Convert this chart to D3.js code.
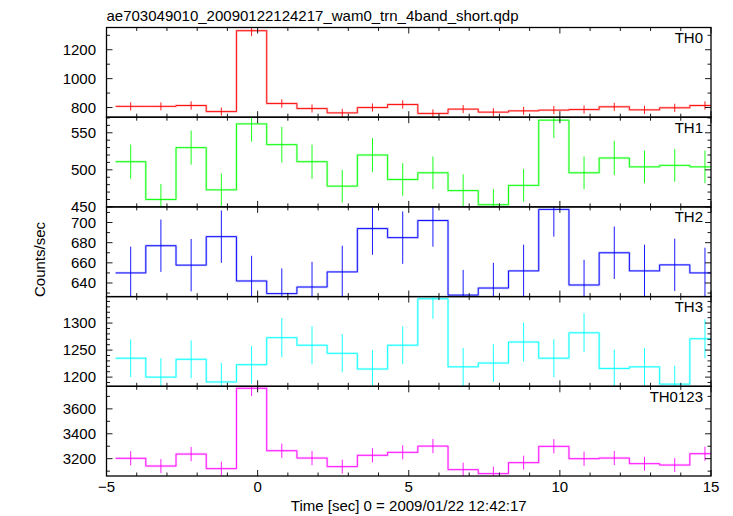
<!DOCTYPE html>
<html>
<head>
<meta charset="utf-8">
<script src="https://cdn.jsdelivr.net/npm/d3@7"></script>
<style>
html,body{margin:0;padding:0;background:#fff;}
svg{display:block;}
text{font-family:"Liberation Sans",Arial,Helvetica,sans-serif;fill:#000;}
</style>
</head>
<body>
<svg id="chart" width="733" height="516"></svg>
<script>
// ---------------- data ----------------
const title = "ae703049010_20090122124217_wam0_trn_4band_short.qdp";
const xLabel = "Time [sec] 0 = 2009/01/22 12:42:17";
const yLabel = "Counts/sec";
const binWidth = 1.0;
const binCenters = [-4.2,-3.2,-2.2,-1.2,-0.2,0.8,1.8,2.8,3.8,4.8,5.8,6.8,7.8,8.8,9.8,10.8,11.8,12.8,13.8,14.8];
const xTickLabels = [-5, 0, 5, 10, 15];

const panelNames = ["TH0","TH1","TH2","TH3","TH0123"];
const panelColors = ["#ff0000","#00ff00","#0000ff","#00ffff","#ff00ff"];

const th0Rate = [808,808,814,772,1332,828,793,763,800,821,759,789,768,777,782,786,805,784,798,814];
const th0Err  = [28,28,29,28,38,29,28,28,28,29,28,28,28,28,28,28,28,28,28,29];
const th1Rate = [511,460,530,473,562,534,511,478,520,487,496,472,453,479,567,496,516,504,506,504];
const th1Err  = [23,21,23,22,24,24,23,22,23,22,22,22,21,22,24,22,23,22,22,22];
const th2Rate = [650,677,657.7,686,642,629.5,636,651,694,685,702,628,635,652,713,638,670,652,658,650];
const th2Err  = [26,26,26,26,25,25,25,26,26,26,26,25,25,26,27,25,26,26,26,25];
const th3Rate = [1235,1200,1233,1191,1223,1273,1259,1244,1215,1259,1345,1219,1226,1265,1235,1282,1216,1219,1187,1271];
const th3Err  = [35,35,35,35,35,36,35,35,35,35,37,35,35,36,35,36,35,35,34,36];
const sumRate = [3203,3141,3237,3120,3765,3264,3205,3136,3227,3251,3301,3112,3080,3168,3299,3200,3205,3160,3149,3240];
const sumErr  = [57,56,57,56,62,57,57,56,57,57,57,56,56,56,57,57,57,56,56,57];

const yDomains = [[733,1354],[450,571],[626.5,715.5],[1183,1349],[3061,3781]];
const yMajor   = [[800,1000,1200],[450,500,550],[640,660,680,700],[1200,1250,1300],[3200,3400,3600]];
const yMinorStep = [100,10,10,10,100];

const rates = [th0Rate, th1Rate, th2Rate, th3Rate, sumRate];
const errs  = [th0Err, th1Err, th2Err, th3Err, sumErr];

// ---------------- layout ----------------
const L = 106.5, R = 711, T = 27.5, PH = 89.7;
const svg = d3.select("#chart");
const x = d3.scaleLinear().domain([-5,15]).range([L,R]);
const xMinor = d3.range(-5, 15.001, 1);

svg.append("text").attr("x",L).attr("y",20.5).attr("font-size",15).text(title);

const defs = svg.append("defs");

panelNames.forEach((name, p) => {
  const top = T + p*PH, bot = top + PH;
  const y = d3.scaleLinear().domain(yDomains[p]).range([bot, top]);
  const g = svg.append("g");
  const cid = "clip"+p;
  defs.append("clipPath").attr("id",cid).append("rect")
    .attr("x",L).attr("y",top).attr("width",R-L).attr("height",PH);

  const data = binCenters.map((c,i)=>({c, v:rates[p][i], e:errs[p][i]}));
  const pts = [];
  data.forEach(d=>{ pts.push([d.c-binWidth/2, d.v]); pts.push([d.c+binWidth/2, d.v]); });
  const line = d3.line().x(d=>x(d[0])).y(d=>y(d[1]));
  const col = panelColors[p];
  const dg = g.append("g").attr("clip-path",`url(#${cid})`);
  dg.append("path").attr("d",line(pts)).attr("fill","none")
    .attr("stroke",col).attr("stroke-opacity",0.22).attr("stroke-width",2.4);
  dg.append("path").attr("d",line(pts)).attr("fill","none")
    .attr("stroke",col).attr("stroke-width",0.9);
  dg.selectAll("line.err").data(data).enter().append("line")
    .attr("x1",d=>x(d.c)).attr("x2",d=>x(d.c))
    .attr("y1",d=>y(d.v-d.e)).attr("y2",d=>y(d.v+d.e))
    .attr("stroke",col).attr("stroke-width",0.9);

  // axes (ticks inward on all four sides)
  const tickG = g.append("g").attr("stroke","#000").attr("stroke-width",0.9);
  xMinor.forEach(t=>{
    const major = (t % 5 === 0);
    const len = major ? 6 : 3.5;
    tickG.append("line").attr("x1",x(t)).attr("x2",x(t)).attr("y1",top).attr("y2",top+len);
    tickG.append("line").attr("x1",x(t)).attr("x2",x(t)).attr("y1",bot).attr("y2",bot-len);
  });
  const step = yMinorStep[p];
  const yMinorTicks = d3.range(Math.ceil(yDomains[p][0]/step)*step, yDomains[p][1]+0.001, step);
  yMinorTicks.forEach(t=>{
    const major = yMajor[p].includes(t);
    const len = major ? 6 : 3.5;
    tickG.append("line").attr("x1",L).attr("x2",L+len).attr("y1",y(t)).attr("y2",y(t));
    tickG.append("line").attr("x1",R).attr("x2",R-len).attr("y1",y(t)).attr("y2",y(t));
  });
  g.append("rect").attr("x",L).attr("y",top).attr("width",R-L).attr("height",PH)
    .attr("fill","none").attr("stroke","#000").attr("stroke-width",1.3);

  g.selectAll("text.yl").data(yMajor[p]).enter().append("text")
    .attr("x",96).attr("y",d=>y(d)+5.3).attr("text-anchor","end")
    .attr("font-size",15).text(d=>d);

  g.append("text").attr("x",703).attr("y",top+15.5).attr("text-anchor","end")
    .attr("font-size",15).text(name);
});

const bottom = T + 5*PH;
svg.selectAll("text.xl").data(xTickLabels).enter().append("text")
  .attr("x",d=>x(d)).attr("y",bottom+16).attr("text-anchor","middle")
  .attr("font-size",15).text(d=> d<0 ? "\u2212"+Math.abs(d) : d);

svg.append("text").attr("x",(L+R)/2).attr("y",511).attr("text-anchor","middle")
  .attr("font-size",15).text(xLabel);

svg.append("text").attr("transform","translate(45,259.5) rotate(-90)")
  .attr("text-anchor","middle").attr("font-size",15).text(yLabel);
</script>
</body>
</html>
